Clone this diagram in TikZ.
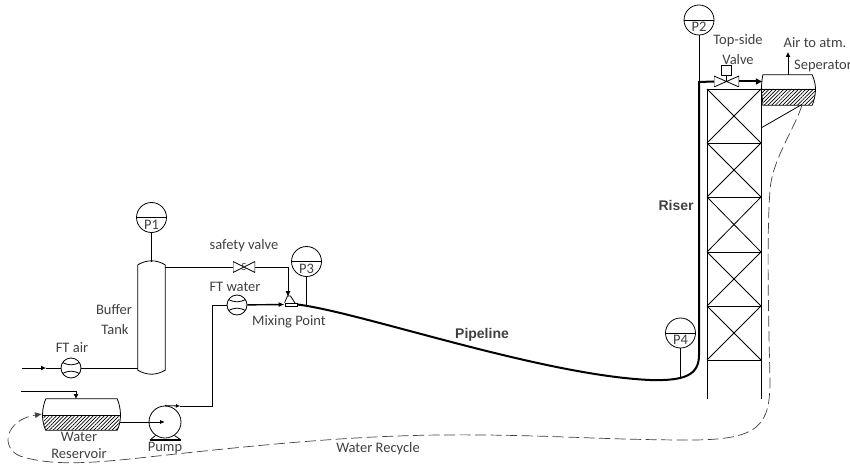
\documentclass[tikz,border=0pt]{standalone}
\usepackage{fontspec}
\setmainfont{Carlito}
\newfontfamily\boldlabel{Liberation Sans}[BoldFont={Liberation Sans Bold}]
\usepackage{xcolor}
\definecolor{LabelGray}{RGB}{64,64,64}
\usetikzlibrary{arrows.meta, patterns.meta, positioning, calc}
\tikzset{
	line/.style={black,line width=0.8pt},
	pipe/.style={black,line width=2pt},
	recycle/.style={black!75,line width=0.7pt,dash pattern=on 11pt off 4.5pt},
	lbl/.style={font=\fontsize{14.5}{16}\selectfont,text=LabelGray,inner sep=0pt},
	boldlbl/.style={font=\fontsize{14}{16}\selectfont\boldlabel\bfseries,text=LabelGray,inner sep=0pt},
	gauge/.style={circle,line,draw,minimum size=30pt,inner sep=0pt,
		path picture={\draw[line] (path picture bounding box.west) -- (path picture bounding box.east);},
		label={[lbl,yshift=-7pt]center:#1}},
	meter/.style={circle,line,draw,fill=white,minimum size=20pt,inner sep=0pt,
		path picture={\draw[line] ($(path picture bounding box.north west)+(0,-3.5pt)$) .. controls ($(path picture bounding box.center)+(-3pt,2pt)$) and ($(path picture bounding box.center)+(3pt,2pt)$) .. ($(path picture bounding box.north east)+(0,-3.5pt)$);
			\draw[line] ($(path picture bounding box.south west)+(0,3.5pt)$) .. controls ($(path picture bounding box.center)+(-3pt,-2pt)$) and ($(path picture bounding box.center)+(3pt,-2pt)$) .. ($(path picture bounding box.south east)+(0,3.5pt)$);}},
	valve/.style={minimum width=#1,minimum height=11pt,inner sep=0pt,
		path picture={\draw[line,fill=white] (path picture bounding box.south west) -- (path picture bounding box.north east) -- (path picture bounding box.south east) -- (path picture bounding box.north west) -- cycle;}},
	hatch/.style={pattern={Lines[angle=45,distance=2.6pt,line width=0.7pt]},pattern color=black},
	box/.style={minimum width=#1,inner sep=0pt}
}
\begin{document}
\begin{tikzpicture}[x=1pt,y=-1pt]
\useasboundingbox (0,0) rectangle (850,465);
% gauges
\node[gauge=P1] (p1) at (151.5,217.5) {};
\node[gauge=P3] (p3) at (306.5,261.5) {};
\node[gauge=P2] (p2) at (699,20) {};
\node[gauge=P4] (p4) at (680.5,333) {};
% buffer tank
\node[box=27pt,minimum height=105pt] (tank) at (151.5,317.5) {};
\draw[line] (tank.north west) to[bend left=30] (tank.north east) -- (tank.south east) to[bend left=30] (tank.south west) -- cycle;
\coordinate (tanktop) at (151.5,262);
\draw[line] (p1) -- (tanktop);
% air feed
\node[meter] (ftair) at (71,368) {};
\coordinate (airin) at (22,368);
\coordinate (airtip) at (46,368);
\draw[line,-{Latex[length=5pt,width=5pt]}] (airin) -- (airtip);
\draw[line] (airtip) -- (ftair);
\draw[line] (ftair) -- (ftair -| tank.west);
% water reservoir
\node[box=71pt,minimum height=31pt] (res) at (81.5,414.5) {};
\fill[hatch] (43.5,415) -- (119.5,415) .. controls (119.5,422) and (118.5,427) .. (117,430) -- (46,430) .. controls (44.5,427) and (43.5,422) .. (43.5,415) -- cycle;
\draw[line] (res.north west) -- (res.north east) .. controls (119,403) and (120.5,409) .. (120.5,415) .. controls (120.5,421) and (119,427) .. (res.south east) -- (res.south west) .. controls (44,427) and (42.5,421) .. (42.5,415) .. controls (42.5,409) and (44,403) .. (res.north west);
\draw[line] (43,415.5) -- (120,415.5);
\coordinate (topfeed) at (21,391);
\draw[line,-{Latex[length=5pt,width=5pt]}] (topfeed) -| (76,399);
% pump
\node[circle,line,draw,minimum size=32pt,inner sep=0pt] (pump) at (165,422) {};
\draw[line,line width=1.2pt] (150,440) -- (181,440);
\draw[line] (150,440) -- (pump.235);
\draw[line] (181,440) -- (pump.305);
\coordinate (resout) at (120,422);
\draw[line,-{Latex[length=5pt,width=4pt]}] (resout) -- (pump.center);
% mixing point
\node[draw,line,minimum width=12pt,minimum height=3pt,inner sep=0pt] (mix) at (291,304.5) {};
\draw[line] (mix.north west) -- (287.5,296) -- (290.5,296) -- (295,303);
% water feed
\node[meter] (ftwater) at (237,305) {};
\coordinate (pumpout) at (212,406);
\draw[line,-{Latex[length=4pt,width=4pt]}] (pump.north) -- (180,406);
\draw[line] (180,406) -- (pumpout) -- (pumpout |- ftwater) -- (ftwater);
\draw[line,line width=1.4pt,-{Latex[length=6pt,width=5pt]}] (ftwater) -- (mix.west);
% safety valve line
\node[valve=22pt] (safety) at (244,267) {};
\node[lbl,font=\fontsize{11}{12}\selectfont] (spring) at (244,267) {S};
\coordinate (safetybend) at (288,267);
\draw[line] (safety.west -| tank.east) -- (safety.west);
\draw[line] (safety.east) -- (safetybend);
\draw[line,-{Latex[length=6pt,width=5pt]}] (safetybend) -- (288,297);
% pipeline and riser
\coordinate (riserbase) at (699,355);
\node[valve=25pt] (topvalve) at (726.5,81.5) {};
\draw[pipe] (mix.east) .. controls (360,312) and (540,375) .. (650,380) .. controls (685,381) and (699,375) .. (riserbase) -- (699,82) -- (topvalve.west);
\draw[line] (p3) -- (306.5,306);
\draw[line] (p4) -- (680.5,378);
\draw[line] (p2) -- (699,82);
% top side valve
\node[draw,line,minimum size=10pt,inner sep=0pt] (actuator) at (726.5,70.5) {};
\draw[line] (actuator) -- (topvalve.center);
% seperator
\node[box=49pt,minimum height=30pt] (sep) at (787.5,90) {};
\fill[hatch] (762,89) -- (815,89) .. controls (815,95) and (814,101) .. (812,105) -- (764,105) .. controls (763,101) and (762,95) .. (762,89) -- cycle;
\draw[line] (sep.north west) -- (sep.north east) .. controls (814,79) and (815.5,84) .. (815.5,89) .. controls (815.5,95) and (814,101) .. (sep.south east) -- (sep.south west) .. controls (763,101) and (761.5,95) .. (761.5,89) .. controls (761.5,84) and (762,79) .. (sep.north west);
\draw[line] (761.5,89.5) -- (815.5,89.5);
\draw[pipe,-{Latex[length=7pt,width=7pt]}] (topvalve.east) -- (sep.north west |- topvalve);
\coordinate (vent) at (788,52);
\draw[line,-{Latex[length=5pt,width=5pt]}] (sep.north -| vent) -- (vent);
% tower
\draw[line] (707,89) -- (707,399);
\draw[line] (761,89) -- (761,399);
\foreach \y/\z in {89/143,143/197,197/252,252/306,306/360}{
	\draw[line] (707,\y) -- (761,\y);
	\draw[line] (707,\y) -- (761,\z);
	\draw[line] (761,\y) -- (707,\z);
}
\draw[line] (707,360) -- (761,360);
\draw[line] (761,128) -- (801,105);
% water recycle
\draw[recycle,-{Latex[length=7pt,width=6pt]}] (802,105) .. controls (795,128) and (772,160) .. (770,190) .. controls (767,230) and (768,300) .. (770,380) .. controls (770,425) and (760,440) .. (690,440) .. controls (600,440) and (540,434) .. (440,435) .. controls (340,436) and (240,447) .. (130,459) .. controls (90,463) and (50,466) .. (20,456) .. controls (0,448) and (5,420) .. (42,414);
% labels
\node[lbl] (lp1) at (114,310) {Buffer};
\node[lbl] (lp2) at (115,330) {Tank};
\node[lbl] (lftair) at (72,348) {FT air};
\node[lbl] (lftwater) at (235,287) {FT water};
\node[lbl] (lsafety) at (244,246) {safety valve};
\node[lbl] (lmix) at (289,322) {Mixing Point};
\node[lbl] (lwater) at (79,437) {Water};
\node[lbl] (lres) at (79,454) {Reservoir};
\node[lbl] (lpump) at (165,448) {Pump};
\node[lbl] (lrecycle) at (378,449) {Water Recycle};
\node[boldlbl] (lpipe) at (482,335) {Pipeline};
\node[boldlbl] (lriser) at (676,205) {Riser};
\node[lbl] (ltop) at (738,41) {Top-side};
\node[lbl] (lvalve) at (738,60) {Valve};
\node[lbl] (lair) at (815,43) {Air to atm.};
\node[lbl,anchor=west] (lsep) at (794,66) {Seperator};
\end{tikzpicture}
\end{document}
